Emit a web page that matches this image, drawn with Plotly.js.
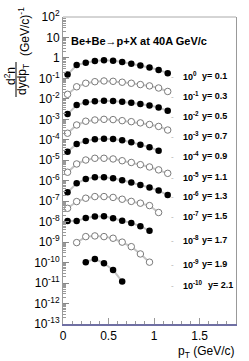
<!DOCTYPE html>
<html>
<head>
<meta charset="utf-8">
<script src="https://cdn.plot.ly/plotly-3.0.1.min.js"></script>
<style>html,body{margin:0;padding:0;background:#fff;}#chart{width:249px;height:361px;}</style>
</head>
<body>
<div id="chart"></div>
<script>
// ---- data ----
const rapidity = ['0.1','0.3','0.5','0.7','0.9','1.1','1.3','1.5','1.7','1.9','2.1'];
const scaleExp = [0,-1,-2,-3,-4,-5,-6,-7,-8,-9,-10];
const filled   = [true,false,true,false,true,false,true,false,true,false,true];

const pt_y01 = [0.05,0.15,0.25,0.35,0.45,0.55,0.65,0.75,0.85,0.95,1.05,1.15];
const v_y01  = [0.155,0.45,0.58,0.71,0.76,0.73,0.63,0.52,0.43,0.34,0.26,0.18];
const pt_y03 = [0.05,0.15,0.25,0.35,0.45,0.55,0.65,0.75,0.85,0.95,1.05,1.15];
const v_y03  = [0.167,0.39,0.58,0.69,0.75,0.72,0.65,0.58,0.50,0.43,0.34,0.23];
const pt_y05 = [0.05,0.15,0.25,0.35,0.45,0.55,0.65,0.75,0.85,0.95,1.05,1.15];
const v_y05  = [0.18,0.50,0.68,0.76,0.81,0.79,0.72,0.65,0.56,0.48,0.38,0.26];
const pt_y07 = [0.05,0.15,0.25,0.35,0.45,0.55,0.65,0.75,0.85,0.95,1.05,1.15];
const v_y07  = [0.21,0.53,0.81,0.93,1.0,0.97,0.86,0.77,0.67,0.56,0.45,0.30];
const pt_y09 = [0.05,0.15,0.25,0.35,0.45,0.55,0.65,0.75,0.85,0.95,1.05];
const v_y09  = [0.26,0.63,0.88,1.07,1.13,1.08,0.94,0.76,0.58,0.43,0.29];
const pt_y11 = [0.05,0.15,0.25,0.35,0.45,0.55,0.65,0.75,0.85,0.95,1.05,1.15];
const v_y11  = [0.26,0.66,1.03,1.25,1.25,1.16,0.95,0.78,0.61,0.47,0.34,0.23];
const pt_y13 = [0.05,0.15,0.25,0.35,0.45,0.55,0.65,0.75,0.85,0.95,1.05,1.15];
const v_y13  = [0.27,0.75,1.22,1.48,1.48,1.32,1.06,0.83,0.62,0.47,0.33,0.20];
const pt_y15 = [0.05,0.15,0.25,0.35,0.45,0.55,0.65,0.75,0.85,0.95,1.05];
const v_y15  = [0.45,0.96,1.40,1.68,1.68,1.53,1.25,0.98,0.80,0.61,0.28];
const pt_y17 = [0.05,0.15,0.25,0.35,0.45,0.55,0.65,0.75,0.85,0.95];
const v_y17  = [1.07,1.07,1.53,1.77,1.82,1.48,1.10,0.87,0.60,0.355];
const pt_y19 = [0.15,0.25,0.35,0.45,0.55,0.65,0.75,0.85,0.95];
const v_y19  = [0.95,1.86,2.01,1.86,1.55,1.0,0.60,0.265,0.105];
const pt_y21 = [0.25,0.35,0.45,0.55,0.65];
const v_y21  = [1.05,1.52,0.93,0.44,0.118];

const ptRows  = [pt_y01,pt_y03,pt_y05,pt_y07,pt_y09,pt_y11,pt_y13,pt_y15,pt_y17,pt_y19,pt_y21];
const valRows = [v_y01,v_y03,v_y05,v_y07,v_y09,v_y11,v_y13,v_y15,v_y17,v_y19,v_y21];

const yTickExp = [2,1,0,-1,-2,-3,-4,-5,-6,-7,-8,-9,-10,-11,-12,-13];
const xTickVals = [0,0.5,1,1.5];
const xTickText = ['0','0.5','1','1.5'];

// ---- layout helpers (pixel positions) ----
const W=249,H=361, L=63,R=236,T=17,B=324;
const px = x => (x-L)/(R-L);
const py = y => (B-y)/(B-T);
const FONT = 'Liberation Sans, Arial, sans-serif';

const traces = [];
rapidity.forEach((r,i)=>{
  const f = Math.pow(10, scaleExp[i]);
  traces.push({
    type:'scatter', mode:'lines+markers', name:'y= '+r,
    x: ptRows[i], y: valRows[i].map(v=>v*f),
    line:{color:'#c4c4c4', width:2},
    marker: filled[i]
      ? {symbol:'circle', size:6.5, color:'#000', line:{color:'#000',width:0}}
      : {symbol:'circle', size:6.5, color:'#fff', line:{color:'#7a7a7a',width:1}},
    showlegend:false, hoverinfo:'skip'
  });
});

const tickText = yTickExp.map(e => e===0 ? '1' : (e===1 ? '10' : '10<sup>'+e+'</sup>'));
const minorVals = [];
for (let e=-13;e<2;e++) for (let k=2;k<10;k++) minorVals.push(k*Math.pow(10,e));

const labelY = [76,96,116,136,156,177,196,216,240,264,285];
const annotations = [];
rapidity.forEach((r,i)=>{
  annotations.push({xref:'paper',yref:'paper',x:px(172),y:py(labelY[i]),xanchor:'center',yanchor:'middle',
    text:'-', showarrow:false, font:{family:FONT,size:8,color:'#aaa'}});
  annotations.push({xref:'paper',yref:'paper',x:px(181),y:py(labelY[i]),xanchor:'left',yanchor:'middle',
    text:'<b>10<sup>'+scaleExp[i]+'</sup></b>', showarrow:false, font:{family:FONT,size:9,color:'#000'}});
  annotations.push({xref:'paper',yref:'paper',x:px(i===10?206:200),y:py(labelY[i]),xanchor:'left',yanchor:'middle',
    text:'<b>y= '+r+'</b>', showarrow:false, font:{family:FONT,size:9,color:'#000'}});
});
// y-axis title pieces
annotations.push({xref:'paper',yref:'paper',x:px(24),y:py(32),xanchor:'center',yanchor:'middle',textangle:-90,
  text:'(GeV/c)<sup>-1</sup>', showarrow:false, font:{family:FONT,size:12,color:'#000'}});
annotations.push({xref:'paper',yref:'paper',x:px(10),y:py(76),xanchor:'center',yanchor:'middle',textangle:-90,
  text:'d<sup>2</sup>n', showarrow:false, font:{family:FONT,size:12,color:'#000'}});
annotations.push({xref:'paper',yref:'paper',x:px(23),y:py(80),xanchor:'center',yanchor:'middle',textangle:-90,
  text:'dydp<sub>T</sub>', showarrow:false, font:{family:FONT,size:12,color:'#000'}});
// x-axis title
annotations.push({xref:'paper',yref:'paper',x:px(236),y:py(352),xanchor:'right',yanchor:'middle',
  text:'p<sub>T</sub> (GeV/c)', showarrow:false, font:{family:FONT,size:12,color:'#000'}});

const layout = {
  width:W, height:H,
  margin:{l:L, r:W-R, t:T, b:H-B, pad:0},
  paper_bgcolor:'#fff', plot_bgcolor:'#fff',
  font:{family:FONT, size:12, color:'#000'},
  title:{text:'<b>Be+Be→p+X at 40A GeV/c</b>', x:71/W, xanchor:'left', y:1-41/H, yanchor:'middle',
    font:{family:FONT,size:11,color:'#000'}},
  xaxis:{range:[0,1.9], showgrid:false, zeroline:false, showline:true, linecolor:'#6f6fa3', linewidth:2,
    ticks:'inside', ticklen:6, tickcolor:'#999', tickwidth:1,
    tickmode:'array', tickvals:xTickVals, ticktext:xTickText,
    minor:{dtick:0.1, tick0:0, ticks:'inside', ticklen:3, tickcolor:'#999', showgrid:false},
    tickfont:{family:FONT,size:12,color:'#000'}, fixedrange:true},
  yaxis:{type:'log', range:[-13,2], showgrid:false, zeroline:false, showline:true, linecolor:'#999', linewidth:1,
    mirror:true, ticks:'inside', ticklen:6, tickcolor:'#888',
    tickmode:'array', tickvals:yTickExp.map(e=>Math.pow(10,e)), ticktext:tickText,
    minor:{tickmode:'array', tickvals:minorVals, ticks:'inside', ticklen:3, tickcolor:'#999', showgrid:false},
    tickfont:{family:FONT,size:12,color:'#000'}, fixedrange:true},
  shapes:[
    {type:'line', xref:'paper', yref:'paper', x0:0, x1:1, y0:1, y1:1, line:{color:'#aaa', width:1}},
    {type:'line', xref:'paper', yref:'paper', x0:px(16), x1:px(16), y0:py(62), y1:py(97), line:{color:'#000', width:1}}
  ],
  annotations:annotations,
  showlegend:false
};

Plotly.newPlot('chart', traces, layout, {staticPlot:true, displayModeBar:false});
</script>
</body>
</html>
